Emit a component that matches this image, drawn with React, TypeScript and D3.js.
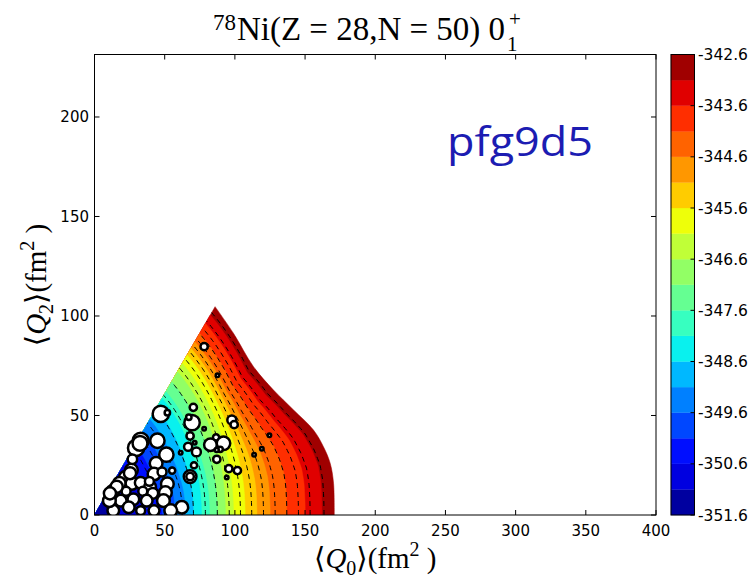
import React from "react";
import * as d3 from "d3";

const W = 753;
const H = 580;

// axes ticks
const xTicks = [0, 50, 100, 150, 200, 250, 300, 350, 400];
const yTicks = [0, 50, 100, 150, 200];

// colorbar
const cbLevels = [-351.6, -351.1, -350.6, -350.1, -349.6, -349.1, -348.6, -348.1, -347.6, -347.1, -346.6, -346.1, -345.6, -345.1, -344.6, -344.1, -343.6, -343.1, -342.6];
const cbTickValues = [-342.6, -343.6, -344.6, -345.6, -346.6, -347.6, -348.6, -349.6, -350.6, -351.6];
const cbTickLabels = ["-342.6", "-343.6", "-344.6", "-345.6", "-346.6", "-347.6", "-348.6", "-349.6", "-350.6", "-351.6"];

// filled contour boundaries, outer -> inner
const contourLevels = [-342.6, -343.1, -343.6, -344.1, -344.6, -345.1, -345.6, -346.1, -346.6, -347.1, -347.6, -348.1, -348.6, -349.1, -349.6, -350.1, -350.6, -351.1];
const contourBottomQ0 = [170.8, 162, 150.1, 137, 125.1, 115.7, 107.3, 99, 93.3, 87.6, 81.9, 76.2, 70.4, 64.5, 57, 48, 36, 15];
const contourEdgeQ2 = [104.7, 100.5, 96.3, 91.3, 87.1, 83.8, 80.4, 76.2, 72, 67, 62, 58.6, 53.5, 48, 41.9, 35, 25, 9];

// outer boundary of the surface (level -342.6)
const outerQ0 = [85.9, 99, 113.3, 127.5, 141.8, 156, 163.1, 167.9, 170.3, 170.8];
const outerQ2 = [104.7, 91.3, 74.5, 62.8, 52.8, 42.7, 34.3, 26, 15.9, 0];

// dashed contour lines
const dashBottomQ0 = [46, 54, 62.5, 70.5, 79, 87.5, 96, 104, 112, 120.4, 128.7, 137, 145.3, 153.6, 163.5];
const dashEdgeQ2 = [33.2, 39.4, 46, 53.1, 60.1, 66.9, 73.8, 78.5, 82.3, 85.4, 88.5, 91.2, 93.9, 97.4, 101.7];

// scatter points
const ptQ0 = [78.1, 87.6, 47.2, 51.9, 70.4, 69.5, 67.2, 78.1, 68.1, 86.6, 82.6, 91.9, 89.5, 87.1, 97.8, 99.5, 124.6, 119.2, 113.7, 66.7, 72.6, 71.4, 61.4, 70.9, 87.1, 95.7, 101.8, 94.2, 68.1, 68.1, 55.3, 62.2,
  32.9, 29.6, 44.8, 51.2, 43.9, 42.4, 26.3, 22.0, 17.7, 13.0, 26.7, 32.9, 39.6, 51.9, 50.5, 49.1, 41.5, 34.4, 37.2, 27.7, 18.7, 13.4, 24.4, 32.9, 42.4, 54.3, 10.6, 22.5, 48.1, 39.1, 32.4, 25.3, 15.8, 11.0, 27.0];
const ptQ2 = [84.6, 70.2, 50.8, 51.4, 54.1, 46.4, 49.1, 43.4, 39.7, 39.0, 35.3, 36.0, 33.0, 32.7, 47.7, 45.4, 40.1, 33.3, 30.3, 34.3, 31.7, 36.3, 31.3, 25.0, 28.0, 23.3, 22.3, 18.9, 19.3, 19.3, 22.3, 3.9,
  37.3, 33.7, 37.3, 30.3, 26.0, 20.6, 22.6, 18.9, 15.9, 11.9, 15.9, 16.2, 14.2, 15.6, 11.2, 7.2, 10.9, 11.9, 7.2, 7.9, 7.2, 2.2, 3.9, 2.2, 2.2, 2.2, 7.2, 11.9, 21.6, 16.9, 36.0, 21.0, 14.2, 10.9, 28.0];
const ptR = [2.7, 1.3, 6, 2, 2.7, 5.7, 2, 1.3, 2.7, 2.3, 4.7, 5, 2, 1.5, 3.3, 2.7, 1.3, 1.3, 1.3, 3, 3.3, 1.3, 1.3, 2.3, 2.7, 2.7, 2.7, 1.3, 4.7, 2.8, 2.3, 4.7,
  6, 6, 5.3, 5.3, 4.7, 4.7, 4.7, 4.7, 4.7, 4.7, 4.7, 4.3, 4.3, 4.7, 4.7, 4.7, 4, 3.3, 4.3, 4.3, 4.3, 4.3, 4.3, 3.3, 4, 4.7, 4.7, 3.3, 3.3, 3.3, 5.5, 4.5, 4.5, 4.5, 3.5];

// jet colormap (matplotlib segment data)
const jetR = d3.scaleLinear().domain([0, 0.35, 0.66, 0.89, 1]).range([0, 0, 1, 1, 0.5]);
const jetG = d3.scaleLinear().domain([0, 0.125, 0.375, 0.64, 0.91, 1]).range([0, 0, 1, 1, 0, 0]);
const jetB = d3.scaleLinear().domain([0, 0.11, 0.34, 0.65, 1]).range([0.5, 1, 1, 0, 0]);
const jet = (t: number) => d3.rgb(jetR(t) * 255, jetG(t) * 255, jetB(t) * 255).formatHex();

const xS = d3.scaleLinear().domain([0, 400]).range([94.5, 656]);
const yS = d3.scaleLinear().domain([0, 231.4]).range([515, 54.5]);
const cbS = d3.scaleLinear().domain([-351.6, -342.6]).range([515, 54.5]);
const rS = d3.scaleLinear().domain([0, 1]).range([0, 1.35]);

const bandColor = (level: number) => {
  const i = cbLevels.findIndex((l) => Math.abs(l - level) < 1e-6) - 1;
  return jet((i + 0.5) / (cbLevels.length - 1));
};

export default function App() {
  const outerPolar = outerQ0
    .map((q0, i) => ({ th: Math.atan2(outerQ2[i], q0), r: Math.hypot(q0, outerQ2[i]) }))
    .sort((a, b) => a.th - b.th);
  const thEdge = outerPolar[outerPolar.length - 1].th;
  const rOut = d3.scaleLinear().domain(outerPolar.map((p) => p.th)).range(outerPolar.map((p) => p.r)).clamp(true);
  const r0 = rOut(0);
  const rE = rOut(thEdge);
  const prof = (th: number) => Math.max(0, Math.min(1, (r0 - rOut(th)) / (r0 - rE)));

  const curvePts = (rb: number, edgeQ2: number): [number, number][] => {
    const rt = edgeQ2 / Math.sin(thEdge);
    return d3.range(0, 81).map((i) => {
      const th = (thEdge * i) / 80;
      const r = rb - (rb - rt) * prof(th);
      return [r * Math.cos(th), r * Math.sin(th)] as [number, number];
    });
  };

  const lin = d3.line<[number, number]>().x((d) => xS(d[0])).y((d) => yS(d[1]));
  const smooth = d3.line<[number, number]>().x((d) => xS(d[0])).y((d) => yS(d[1])).curve(d3.curveCatmullRom.alpha(0.5));
  const origin = `M${xS(0)},${yS(0)}L`;

  const outerPts: [number, number][] = outerQ0.map((q, i) => [q, outerQ2[i]] as [number, number]).reverse();
  const outerPath = origin + (smooth(outerPts) as string).slice(1) + "Z";

  const fills = contourLevels.map((lev, k) => {
    const d = k === 0 ? outerPath : origin + (lin(curvePts(contourBottomQ0[k], contourEdgeQ2[k])) as string).slice(1) + "Z";
    return { d, color: bandColor(lev) };
  });

  const dashes = dashBottomQ0.map((b, i) => lin(curvePts(b, dashEdgeQ2[i])) as string);

  const serif = "'Liberation Serif', 'DejaVu Serif', serif";
  const sans = "'DejaVu Sans', sans-serif";

  return (
    <svg width={W} height={H} style={{ position: "absolute", left: 0, top: 0 }} xmlns="http://www.w3.org/2000/svg">
      <rect x={0} y={0} width={W} height={H} fill="#fff" />
      <defs>
        <clipPath id="plotclip">
          <rect x={94.5} y={54.5} width={656 - 94.5} height={515 - 54.5} />
        </clipPath>
      </defs>
      <g clipPath="url(#plotclip)">
        {fills.map((f, i) => (
          <path key={"f" + i} d={f.d} fill={f.color} stroke={f.color} strokeWidth={0.5} />
        ))}
        {dashes.map((d, i) => (
          <path key={"d" + i} d={d} fill="none" stroke="#000" strokeWidth={1} strokeDasharray="5,4" />
        ))}
        {ptQ0.map((q, i) => (
          <circle key={"p" + i} cx={xS(q)} cy={yS(ptQ2[i])} r={rS(ptR[i])} fill="#fff" stroke="#000" strokeWidth={2.5} />
        ))}
      </g>
      {/* frame */}
      <rect x={94.5} y={54.5} width={656 - 94.5} height={515 - 54.5} fill="none" stroke="#000" strokeWidth={1} />
      {xTicks.map((t) => (
        <g key={"xt" + t}>
          <line x1={xS(t)} x2={xS(t)} y1={515} y2={510} stroke="#000" />
          <line x1={xS(t)} x2={xS(t)} y1={54.5} y2={59.5} stroke="#000" />
          <text x={xS(t)} y={536} textAnchor="middle" fontFamily={sans} fontSize={15} fill="#000">{t}</text>
        </g>
      ))}
      {yTicks.map((t) => (
        <g key={"yt" + t}>
          <line x1={94.5} x2={99.5} y1={yS(t)} y2={yS(t)} stroke="#000" />
          <line x1={656} x2={651} y1={yS(t)} y2={yS(t)} stroke="#000" />
          <text x={89} y={yS(t)} dy="0.36em" textAnchor="end" fontFamily={sans} fontSize={15} fill="#000">{t}</text>
        </g>
      ))}
      {/* colorbar */}
      {cbLevels.slice(0, -1).map((l, i) => (
        <rect key={"cb" + i} x={671} width={23.5} y={cbS(cbLevels[i + 1])} height={cbS(l) - cbS(cbLevels[i + 1])} fill={jet((i + 0.5) / (cbLevels.length - 1))} stroke={jet((i + 0.5) / (cbLevels.length - 1))} strokeWidth={0.3} />
      ))}
      <rect x={671} y={54.5} width={23.5} height={515 - 54.5} fill="none" stroke="#000" strokeWidth={1} />
      {cbTickValues.map((v, i) => (
        <g key={"cbt" + i}>
          <line x1={694.5} x2={690.5} y1={cbS(v)} y2={cbS(v)} stroke="#000" />
          <text x={698} y={cbS(v)} dy="0.36em" fontFamily={sans} fontSize={15.5} fill="#000">{cbTickLabels[i]}</text>
        </g>
      ))}
      {/* title */}
      <text x={213} y={30} fontFamily={serif} fontSize={23} fill="#000">78</text>
      <text x={237} y={40} fontFamily={serif} fontSize={33} fill="#000" textLength={268} lengthAdjust="spacingAndGlyphs">Ni(Z = 28,N = 50) 0</text>
      <text x={507} y={51} fontFamily={serif} fontSize={21} fill="#000">1</text>
      <text x={509} y={26} fontFamily={serif} fontSize={21} fill="#000">+</text>
      {/* x label */}
      <text x={375.25} y={568} textAnchor="middle" fontFamily={serif} fontSize={29} fill="#000">
        <tspan>⟨</tspan>
        <tspan fontStyle="italic">Q</tspan>
        <tspan fontSize={20} dy={7}>0</tspan>
        <tspan dy={-7}>⟩(fm</tspan>
        <tspan fontSize={20} dy={-12}>2</tspan>
        <tspan dy={12}> )</tspan>
      </text>
      {/* y label */}
      <text x={0} y={0} transform="translate(46,285) rotate(-90)" textAnchor="middle" fontFamily={serif} fontSize={29} fill="#000">
        <tspan>⟨</tspan>
        <tspan fontStyle="italic">Q</tspan>
        <tspan fontSize={20} dy={7}>2</tspan>
        <tspan dy={-7}>⟩(fm</tspan>
        <tspan fontSize={20} dy={-12}>2</tspan>
        <tspan dy={12}> )</tspan>
      </text>
      {/* watermark */}
      <text x={447} y={156} fontFamily="'Open Sans', 'Liberation Sans', sans-serif" fontSize={40} fill="#1c1cb2" textLength={146} lengthAdjust="spacingAndGlyphs">pfg9d5</text>
    </svg>
  );
}
